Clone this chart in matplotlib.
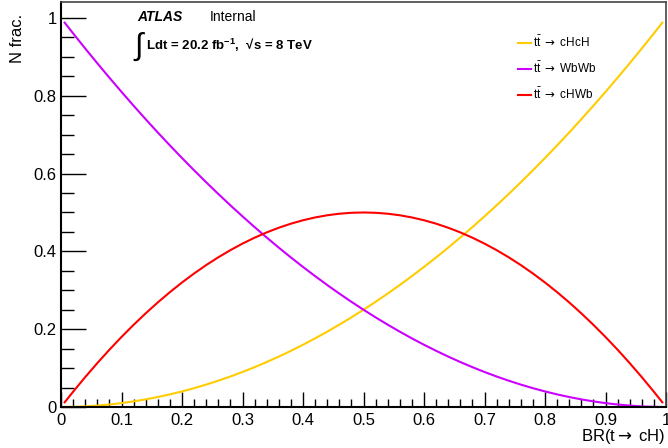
import matplotlib
matplotlib.use("Agg")
import matplotlib.pyplot as plt
from matplotlib.ticker import MultipleLocator
from matplotlib.lines import Line2D

plt.rcParams['font.family'] = ['Liberation Sans', 'DejaVu Sans']
plt.rcParams['mathtext.fontset'] = 'custom'
plt.rcParams['mathtext.rm'] = 'Liberation Sans'
plt.rcParams['mathtext.it'] = 'Liberation Sans:italic'
plt.rcParams['mathtext.bf'] = 'Liberation Sans:bold'
plt.rcParams['mathtext.sf'] = 'DejaVu Sans'

# Branching ratio BR(t -> cH) and the fraction of ttbar events in each decay mode
br = [0.005, 0.02, 0.04, 0.06, 0.08, 0.10, 0.12, 0.14, 0.16, 0.18,
      0.20, 0.22, 0.24, 0.26, 0.28, 0.30, 0.32, 0.34, 0.36, 0.38,
      0.40, 0.42, 0.44, 0.46, 0.48, 0.50, 0.52, 0.54, 0.56, 0.58,
      0.60, 0.62, 0.64, 0.66, 0.68, 0.70, 0.72, 0.74, 0.76, 0.78,
      0.80, 0.82, 0.84, 0.86, 0.88, 0.90, 0.92, 0.94, 0.96, 0.98, 0.995]
frac_chch = [0.0000, 0.0004, 0.0016, 0.0036, 0.0064, 0.0100, 0.0144, 0.0196, 0.0256, 0.0324,
             0.0400, 0.0484, 0.0576, 0.0676, 0.0784, 0.0900, 0.1024, 0.1156, 0.1296, 0.1444,
             0.1600, 0.1764, 0.1936, 0.2116, 0.2304, 0.2500, 0.2704, 0.2916, 0.3136, 0.3364,
             0.3600, 0.3844, 0.4096, 0.4356, 0.4624, 0.4900, 0.5184, 0.5476, 0.5776, 0.6084,
             0.6400, 0.6724, 0.7056, 0.7396, 0.7744, 0.8100, 0.8464, 0.8836, 0.9216, 0.9604, 0.9900]
frac_wbwb = [0.9900, 0.9604, 0.9216, 0.8836, 0.8464, 0.8100, 0.7744, 0.7396, 0.7056, 0.6724,
             0.6400, 0.6084, 0.5776, 0.5476, 0.5184, 0.4900, 0.4624, 0.4356, 0.4096, 0.3844,
             0.3600, 0.3364, 0.3136, 0.2916, 0.2704, 0.2500, 0.2304, 0.2116, 0.1936, 0.1764,
             0.1600, 0.1444, 0.1296, 0.1156, 0.1024, 0.0900, 0.0784, 0.0676, 0.0576, 0.0484,
             0.0400, 0.0324, 0.0256, 0.0196, 0.0144, 0.0100, 0.0064, 0.0036, 0.0016, 0.0004, 0.0000]
frac_chwb = [0.0100, 0.0392, 0.0768, 0.1128, 0.1472, 0.1800, 0.2112, 0.2408, 0.2688, 0.2952,
             0.3200, 0.3432, 0.3648, 0.3848, 0.4032, 0.4200, 0.4352, 0.4488, 0.4608, 0.4712,
             0.4800, 0.4872, 0.4928, 0.4968, 0.4992, 0.5000, 0.4992, 0.4968, 0.4928, 0.4872,
             0.4800, 0.4712, 0.4608, 0.4488, 0.4352, 0.4200, 0.4032, 0.3848, 0.3648, 0.3432,
             0.3200, 0.2952, 0.2688, 0.2408, 0.2112, 0.1800, 0.1472, 0.1128, 0.0768, 0.0392, 0.0100]

series_labels = [r'$\mathrm{t\bar{t}}\ \mathsf{\rightarrow}$ cHcH',
                 r'$\mathrm{t\bar{t}}\ \mathsf{\rightarrow}$ WbWb',
                 r'$\mathrm{t\bar{t}}\ \mathsf{\rightarrow}$ cHWb']
series_colors = ['#FFCC00', '#CC00FF', '#FF0000']

x_label = r'BR(t$\mathsf{\rightarrow}$ cH)'
y_label = 'N frac.'

fig = plt.figure(figsize=(6.68, 4.48), dpi=100)
ax = fig.add_axes([61 / 668, 1 - 407 / 448, 605 / 668, 405 / 448])

for ys, col, lab in zip([frac_chch, frac_wbwb, frac_chwb], series_colors, series_labels):
    ax.plot(br, ys, color=col, lw=1.5, label=lab, solid_capstyle='butt')

ax.set_xlim(0, 1)
ax.set_ylim(0, 1.041)

ax.xaxis.set_major_locator(MultipleLocator(0.1))
ax.xaxis.set_minor_locator(MultipleLocator(0.02))
ax.yaxis.set_major_locator(MultipleLocator(0.2))
ax.yaxis.set_minor_locator(MultipleLocator(0.05))
ax.xaxis.set_major_formatter(plt.FuncFormatter(lambda v, p: f'{v:g}'))
ax.yaxis.set_major_formatter(plt.FuncFormatter(lambda v, p: f'{v:g}'))

ax.tick_params(axis='x', which='major', direction='in', length=11, width=1, labelsize=12, pad=4)
ax.tick_params(axis='x', which='minor', direction='in', length=6, width=1)
ax.tick_params(axis='y', which='major', direction='in', length=18, width=1, labelsize=12, pad=3)
ax.tick_params(axis='y', which='minor', direction='in', length=9, width=1)
ax.tick_params(top=False, right=False, which='both')

for s in ['left', 'bottom']:
    ax.spines[s].set_linewidth(1.5)
for s in ['top', 'right']:
    ax.spines[s].set_linewidth(1.2)
    ax.spines[s].set_color('#444444')

fig.text(665 / 668, 1 - 436 / 448, x_label, ha='right', va='center', fontsize=12)
fig.text(18 / 668, 1 - 14 / 448, y_label, ha='center', va='top', rotation=90, fontsize=12)

fig.text(137 / 668, 1 - 17 / 448, 'ATLAS', ha='left', va='center', fontsize=10,
         fontweight='bold', fontstyle='italic')
fig.text(210 / 668, 1 - 17 / 448, 'Internal', ha='left', va='center', fontsize=10)
fig.text(133 / 668, 1 - 47 / 448, r'$\int$', ha='left', va='center', fontsize=22)
fig.text(146 / 668, 1 - 45 / 448, 'Ldt = 20.2 fb$^{\\mathbf{-1}}$,  \u221as = 8 TeV',
         ha='left', va='center', fontsize=9.5, fontweight='bold')

handles = [Line2D([], [], color=c, lw=1.5) for c in series_colors]
ax.legend(handles, series_labels, loc='upper left', bbox_to_anchor=(0.748, 0.93),
          frameon=False, fontsize=8.5, handlelength=1.1, handletextpad=0.15,
          labelspacing=0.9, borderaxespad=0)

fig.savefig('out.png', dpi=100)
